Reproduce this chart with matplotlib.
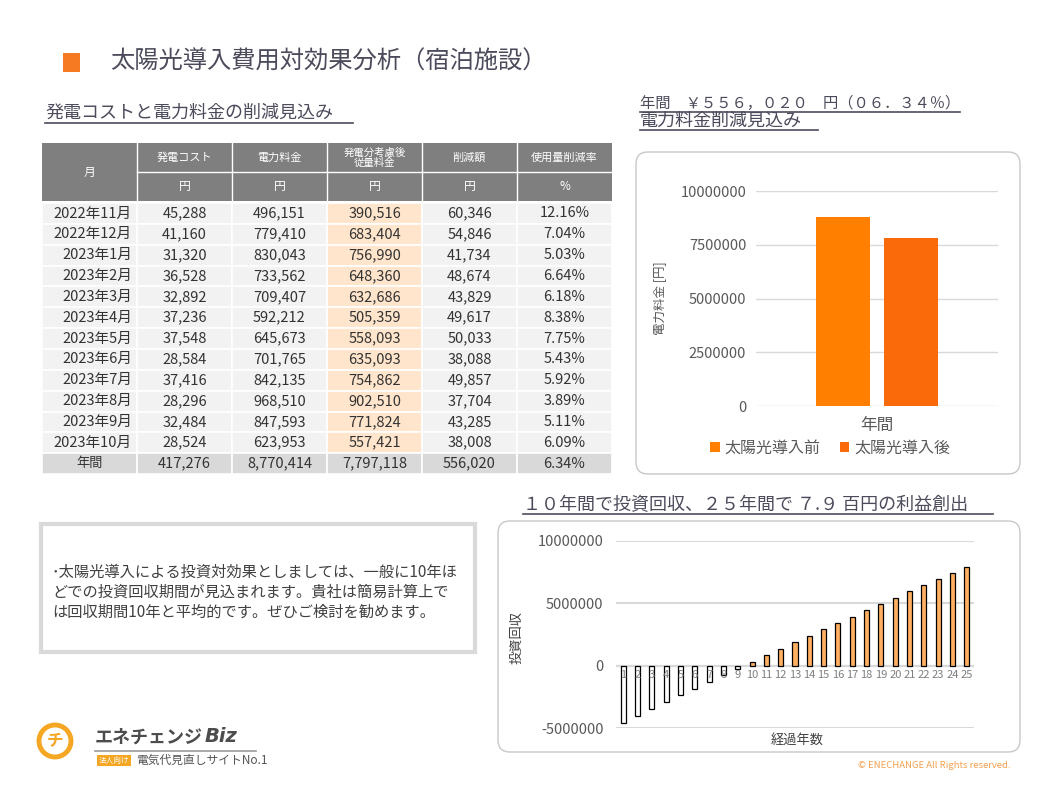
import numpy as np
import matplotlib
matplotlib.use('Agg')
import matplotlib.pyplot as plt
from matplotlib.patches import Rectangle, FancyBboxPatch, Circle

plt.rcParams['font.family'] = ['Noto Sans CJK JP', 'DejaVu Sans']

W, H = 1058, 794

# table data
months = ['2022年11月', '2022年12月', '2023年1月', '2023年2月', '2023年3月', '2023年4月',
          '2023年5月', '2023年6月', '2023年7月', '2023年8月', '2023年9月', '2023年10月']
gen_cost = [45288, 41160, 31320, 36528, 32892, 37236, 37548, 28584, 37416, 28296, 32484, 28524]
elec_fee = [496151, 779410, 830043, 733562, 709407, 592212, 645673, 701765, 842135, 968510, 847593, 623953]
after_fee = [390516, 683404, 756990, 648360, 632686, 505359, 558093, 635093, 754862, 902510, 771824, 557421]
reduction = [60346, 54846, 41734, 48674, 43829, 49617, 50033, 38088, 49857, 37704, 43285, 38008]
rate = [12.16, 7.04, 5.03, 6.64, 6.18, 8.38, 7.75, 5.43, 5.92, 3.89, 5.11, 6.09]
annual_row = ['年間', '417,276', '8,770,414', '7,797,118', '556,020', '6.34%']
headers = ['発電コスト', '電力料金', '発電分考慮後\n従量料金', '削減額', '使用量削減率']
units = ['円', '円', '円', '円', '%']

# annual comparison chart
compare_labels = ['太陽光導入前', '太陽光導入後']
compare_values = [8770414, 7797118]
compare_ticks = [0, 2500000, 5000000, 7500000, 10000000]

# payback chart
years = list(range(1, 26))
payback = [-4560000, -4030000, -3470000, -2910000, -2350000, -1870000, -1310000, -750000,
           -270000, 290000, 880000, 1330000, 1920000, 2400000, 2960000, 3440000, 3920000,
           4480000, 4960000, 5440000, 6000000, 6480000, 6960000, 7440000, 7920000]
payback_ticks = [-5000000, 0, 5000000, 10000000]

ink = '#4B4B5C'
gray_txt = '#595959'

fig = plt.figure(figsize=(W / 100, H / 100), dpi=100)
bg = fig.add_axes([0, 0, 1, 1])
bg.set_xlim(0, W)
bg.set_ylim(H, 0)
bg.axis('off')


def px_axes(x0, y0, x1, y1):
    return fig.add_axes([x0 / W, 1 - y1 / H, (x1 - x0) / W, (y1 - y0) / H])


# title
bg.add_patch(Rectangle((63, 53), 17, 19, facecolor='#F57A22', edgecolor='none'))
bg.text(110, 62, '太陽光導入費用対効果分析（宿泊施設）', fontsize=17.5, color=ink, va='center')

# table heading
bg.text(45, 113, '発電コストと電力料金の削減見込み', fontsize=13, color=ink, va='center')
bg.plot([45, 353], [123, 123], color=ink, lw=1.2)

# table
col_x = [42, 137, 232, 327, 422, 517, 612]
h1, h2, h3 = 143, 172, 201
row_top, row_h = 203, 20.85
hdr_col = '#7F7F7F'
bg.add_patch(Rectangle((col_x[0], h1), col_x[-1] - col_x[0], h3 - h1, facecolor=hdr_col, edgecolor='none'))
bg.text((col_x[0] + col_x[1]) / 2, (h1 + h3) / 2, '月', color='white', fontsize=8.5, ha='center', va='center')
for i in range(5):
    xa, xb = col_x[i + 1], col_x[i + 2]
    bg.plot([xa, xa], [h1, h3], color='white', lw=1)
    bg.plot([xa, xb], [h2, h2], color='white', lw=1)
    bg.text((xa + xb) / 2, (h1 + h2) / 2, headers[i], color='white', fontsize=8 if i != 2 else 7.5,
            ha='center', va='center', linespacing=1.0)
    bg.text((xa + xb) / 2, (h2 + h3) / 2, units[i], color='white', fontsize=8.5, ha='center', va='center')

rows = []
for i in range(len(months)):
    rows.append([months[i], f'{gen_cost[i]:,}', f'{elec_fee[i]:,}', f'{after_fee[i]:,}',
                 f'{reduction[i]:,}', f'{rate[i]:.2f}%'])
rows.append(annual_row)
for r, vals in enumerate(rows):
    y0 = row_top + r * row_h
    last = r == len(rows) - 1
    for c in range(6):
        if last:
            fc = '#D9D9D9'
        elif c == 3:
            fc = '#FFE5CC'
        else:
            fc = '#F2F2F2'
        bg.add_patch(Rectangle((col_x[c], y0), col_x[c + 1] - col_x[c], row_h,
                               facecolor=fc, edgecolor='white', lw=1.2))
        yc = y0 + row_h / 2
        if c == 0 and not last:
            bg.text(col_x[1] - 5, yc, vals[c], fontsize=10.5, color='#333333', ha='right', va='center')
        else:
            bg.text((col_x[c] + col_x[c + 1]) / 2, yc, vals[c], fontsize=10.5 if c else 9.5,
                    color='#333333', ha='center', va='center')

# top-right heading
bg.text(640, 103, '年間　￥５５６，０２０　円（０６．３４％）', fontsize=11, color=ink, va='center')
bg.plot([640, 960], [112, 112], color=ink, lw=1.2)
bg.text(640, 121, '電力料金削減見込み', fontsize=13, color=ink, va='center')
bg.plot([640, 818], [130, 130], color=ink, lw=1.2)

# chart boxes
bg.add_patch(FancyBboxPatch((636, 152), 384, 322, boxstyle='round,pad=0,rounding_size=12',
                            facecolor='white', edgecolor='#C8C8C8', lw=1))
bg.add_patch(FancyBboxPatch((498, 521), 522, 231, boxstyle='round,pad=0,rounding_size=12',
                            facecolor='white', edgecolor='#C8C8C8', lw=1))

# annual comparison bars
ax1 = px_axes(756, 191, 998, 406)
ax1.set_facecolor('none')
bars = ax1.bar([-0.141, 0.141], compare_values, width=0.223, color=['#FF7F00', '#FA6A0A'])
ax1.set_xlim(-0.5, 0.5)
ax1.set_ylim(0, 10000000)
ax1.set_yticks(compare_ticks)
ax1.set_yticklabels([str(t) for t in compare_ticks])
ax1.set_xticks([0])
ax1.set_xticklabels(['年間'], fontsize=12, color=gray_txt)
ax1.tick_params(axis='both', length=0, labelsize=10.5, labelcolor=gray_txt)
ax1.tick_params(axis='x', pad=8, labelsize=12)
ax1.tick_params(axis='y', pad=7)
ax1.grid(axis='y', color='#D9D9D9', lw=1)
ax1.set_axisbelow(True)
for s in ax1.spines.values():
    s.set_visible(False)
bg.text(661, 298, '電力料金 [円]', rotation=90, fontsize=9, color=gray_txt, ha='center', va='center')
fig.legend(bars, compare_labels, loc='center', bbox_to_anchor=(830 / W, 1 - 448 / H), ncol=2,
           frameon=False, fontsize=11.5, handlelength=0.6, handleheight=0.6, handletextpad=0.3,
           columnspacing=1.2, labelcolor=gray_txt)

# payback heading
bg.text(523, 505, '１０年間で投資回収、２５年間で ７.９ 百円の利益創出', fontsize=13, color=ink, va='center')
bg.plot([523, 993], [514, 514], color=ink, lw=1.2)

# payback bars
ax2 = px_axes(616, 541, 974, 728)
ax2.set_facecolor('none')
colors = ['white' if v < 0 else '#FFB062' for v in payback]
ax2.bar(years, payback, width=0.35, color=colors, edgecolor='black', lw=0.9, zorder=3)
ax2.set_xlim(0.5, 25.5)
ax2.set_ylim(-5000000, 10000000)
ax2.set_yticks(payback_ticks)
ax2.set_yticklabels([str(t) for t in payback_ticks])
ax2.set_xticks([])
ax2.tick_params(axis='y', length=0, labelsize=10.5, labelcolor=gray_txt, pad=9)
ax2.grid(axis='y', color='#D9D9D9', lw=1.5, zorder=0)
ax2.axhline(0, color='#BFBFBF', lw=1.5, zorder=1)
for s in ax2.spines.values():
    s.set_visible(False)
for yr in years:
    ax2.annotate(str(yr), (yr, 0), xytext=(0, -3), textcoords='offset points', ha='center', va='top',
                 fontsize=8, color='#7F7F7F', zorder=4)
bg.text(517, 637, '投資回収', rotation=90, fontsize=9.5, color='#404040', ha='center', va='center')
bg.text(797, 740, '経過年数', fontsize=9.5, color='#404040', ha='center', va='center')

# text box
bg.add_patch(Rectangle((41, 524), 434, 128, facecolor='white', edgecolor='#D9D9D9', lw=3))
note = ('･太陽光導入による投資対効果としましては、一般に10年ほ\n'
        'どでの投資回収期間が見込まれます。貴社は簡易計算上で\n'
        'は回収期間10年と平均的です。ぜひご検討を勧めます。')
bg.text(52, 592, note, fontsize=11, color='#404040', va='center', linespacing=1.25)

# logo
bg.add_patch(Circle((55, 741), 16, facecolor='white', edgecolor='#F5A623', lw=3.5))
bg.text(55, 741, 'チ', fontsize=12, color='#F5A623', ha='center', va='center', fontweight='bold')
bg.text(95, 737, 'エネチェンジ', fontsize=13, color='#4D4D4D', va='center', fontweight='bold')
bg.text(205, 737, 'Biz', fontsize=14, color='#4D4D4D', va='center', fontweight='bold',
        fontstyle='italic', family='DejaVu Sans')
bg.plot([95, 256], [751, 751], color='#999999', lw=1.2)
bg.add_patch(Rectangle((97, 755), 34, 11, facecolor='#F5A623', edgecolor='none'))
bg.text(114, 760.5, '法人向け', fontsize=5.5, color='white', ha='center', va='center')
bg.text(136, 760, '電気代見直しサイトNo.1', fontsize=8.5, color='#555555', va='center')

bg.text(858, 765, '© ENECHANGE All Rights reserved.', fontsize=6.8, color='#F5A050', va='center')

fig.savefig('out.png', dpi=100)
